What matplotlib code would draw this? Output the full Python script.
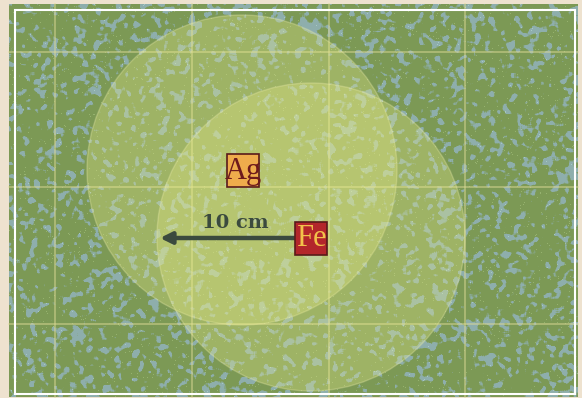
import matplotlib
matplotlib.use("Agg")
import matplotlib.pyplot as plt
import matplotlib.patches as mpatches
import numpy as np

# map frame (pixel coords, y down)
map_box = [9, 4, 578, 397]
inner_box = [15, 10, 575, 394]
grid_x = [55, 192, 329, 465]
grid_y = [52, 187, 324]

# range circles centred on the two markers
circle_x = [242, 311]
circle_y = [170, 237]
circle_r = [155, 154]

# markers
labels = ["Ag", "Fe"]
label_x = [243, 311]
label_y = [170, 238]
label_face = ["#efac4c", "#b3262b"]
label_text = ["#6e1a1c", "#f2c24a"]

# scale arrow
arrow_start = (296, 238)
arrow_end = (160, 238)
arrow_text = "10 cm"


def blur(a, r):
    # box blur with cumsum, both axes
    p = np.pad(a, ((r + 1, r), (0, 0)), mode="edge")
    c = np.cumsum(p, axis=0)
    a = (c[2 * r + 1:] - c[:-2 * r - 1]) / (2 * r + 1)
    p = np.pad(a, ((0, 0), (r + 1, r)), mode="edge")
    c = np.cumsum(p, axis=1)
    return (c[:, 2 * r + 1:] - c[:, :-2 * r - 1]) / (2 * r + 1)


fig = plt.figure(figsize=(5.82, 3.98), dpi=100)
fig.patch.set_facecolor("#eee2cf")
ax = fig.add_axes([0, 0, 1, 1])
ax.set_xlim(0, 582)
ax.set_ylim(398, 0)
ax.axis("off")

# speckled green ground (decorative texture only)
H = map_box[3] - map_box[1]
W = map_box[2] - map_box[0]
rng = np.random.default_rng(7)
n = blur(blur(rng.random((H, W)), 2), 1)
n = (n - n.mean()) / n.std()
big = blur(blur(rng.random((H, W)), 25), 25)
big = (big - big.mean()) / big.std()
fine = rng.random((H, W))
green = np.array([120, 148, 64]) / 255
blue = np.array([145, 178, 185]) / 255
m = np.clip((n - 0.6) * 1.2 + big * 0.1, 0, 0.8) + 0.18
m = np.clip(m, 0, 0.9)[..., None]
img = green * (1 - m) + blue * m
img = img + ((fine > 0.99)[..., None] * 0.10)
img = np.clip(img, 0, 1)
ax.imshow(img, extent=[map_box[0], map_box[2], map_box[3], map_box[1]], zorder=1, interpolation="bilinear")

for x in grid_x:
    ax.plot([x, x], [map_box[1], map_box[3]], color="#e0dc98", alpha=0.5, lw=1.3, zorder=2)
for y in grid_y:
    ax.plot([map_box[0], map_box[2]], [y, y], color="#e0dc98", alpha=0.5, lw=1.3, zorder=2)

for cx, cy, r in zip(circle_x, circle_y, circle_r):
    ax.add_patch(mpatches.Circle((cx, cy), r, facecolor="#eef08c", alpha=0.3, edgecolor="none", zorder=3))
    ax.add_patch(mpatches.Circle((cx, cy), r, facecolor="none", edgecolor="#f0f0b0", alpha=0.3, lw=1, zorder=3))

ax.add_patch(mpatches.Rectangle((inner_box[0], inner_box[1]), inner_box[2] - inner_box[0], inner_box[3] - inner_box[1],
                                facecolor="none", edgecolor="white", lw=1.5, zorder=4))

# scale arrow
ax.annotate("", xy=arrow_end, xytext=arrow_start,
            arrowprops=dict(arrowstyle="-|>", color="#3b4a3e", lw=3.2, mutation_scale=17, shrinkA=0, shrinkB=0),
            zorder=5)
ax.text(235, 223, arrow_text, ha="center", va="center", fontsize=14, fontweight="bold",
        family="DejaVu Serif", color="#3b4a3e", zorder=5)

for lab, x, y, fc, tc in zip(labels, label_x, label_y, label_face, label_text):
    ax.add_patch(mpatches.Rectangle((x - 16, y - 16), 32, 33, facecolor=fc, edgecolor="#5a1a1a", lw=1.2, zorder=6))
    ax.text(x, y + 1, lab, ha="center", va="center", fontsize=22, family="Liberation Serif",
            color=tc, zorder=7)

fig.savefig("out.png", dpi=100, facecolor=fig.get_facecolor())
